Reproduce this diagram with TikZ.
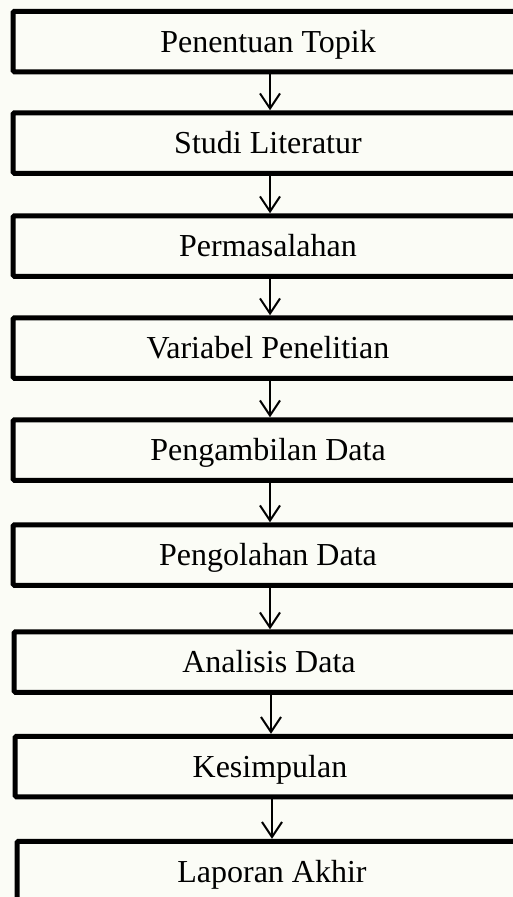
\documentclass[tikz,border=0pt]{standalone}
\usepackage{fontspec}
\setmainfont{Liberation Serif}
\usetikzlibrary{arrows.meta}
\definecolor{bgcol}{RGB}{251,252,246}
\tikzset{
  stepbox/.style={draw=black, line width=5pt, rounded corners=1.5pt, fill=none,
    minimum width=510pt, minimum height=60.5pt, inner sep=0pt,
    text height=21pt, text depth=0pt,
    font=\fontsize{32}{36}\selectfont},
  flowarrow/.style={draw=black, line width=2pt,
    -{Straight Barb[length=15pt,width=20pt,line width=2pt]}}
}
\begin{document}
\begin{tikzpicture}[x=1pt,y=-1pt]
\fill[bgcol] (0,0) rectangle (513,897);
\useasboundingbox (0,0) rectangle (513,897);
\begin{scope}
\clip (0,0) rectangle (513,897);
\node[stepbox] (b1) at (268,41.5) {Penentuan Topik};
\node[stepbox] (b2) at (268,143) {Studi Literatur};
\node[stepbox] (b3) at (268,246) {Permasalahan};
\node[stepbox] (b4) at (268,348) {Variabel Penelitian};
\node[stepbox] (b5) at (268,450) {Pengambilan Data};
\node[stepbox] (b6) at (268,555) {Pengolahan Data};
\node[stepbox] (b7) at (269,662) {Analisis Data};
\node[stepbox] (b8) at (270,766.5) {Kesimpulan};
\node[stepbox] (b9) at (272,871.5) {Laporan Akhir};
\foreach \a/\b in {b1/b2,b2/b3,b3/b4,b4/b5,b5/b6,b6/b7,b7/b8,b8/b9}{
  \draw[flowarrow] ([xshift=2pt]\a.south) -- ([xshift=2pt]\a.south |- \b.north);
}
\end{scope}
\end{tikzpicture}
\end{document}
